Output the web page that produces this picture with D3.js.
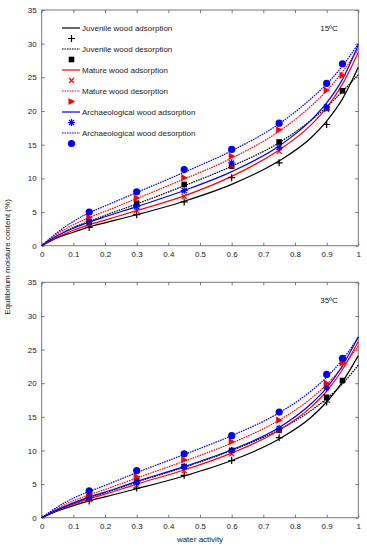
<!DOCTYPE html>
<html>
<head>
<meta charset="utf-8">
<script src="https://cdn.jsdelivr.net/npm/d3@7"></script>
<style>
  body { margin: 0; background: #fff; }
  svg { display: block; font-family: 'Liberation Sans', Arial, sans-serif; }
</style>
</head>
<body>
<div id="chart"></div>
<script>
// water activity values
const awAds = [0.15, 0.3, 0.45, 0.6, 0.75, 0.9];
const awDes = [0.15, 0.3, 0.45, 0.6, 0.75, 0.9, 0.95];
const awFit = [0, 0.05, 0.1, 0.15, 0.2, 0.3, 0.45, 0.6, 0.75, 0.85, 0.9, 0.95, 1];

const xTicks = [0, 0.1, 0.2, 0.3, 0.4, 0.5, 0.6, 0.7, 0.8, 0.9, 1];
const yTicks = [0, 5, 10, 15, 20, 25, 30, 35];

const seriesNames = ['Juvenile wood adsorption', 'Juvenile wood desorption', 'Mature wood adsorption',
  'Mature wood desorption', 'Archaeological wood adsorption', 'Archaeological wood desorption'];

// 15 ºC measured
const juvAds15 = [2.7, 4.6, 6.5, 10.1, 12.3, 18.0];
const juvDes15 = [3.5, 6.3, 9.1, 11.8, 15.4, 20.4, 23.0];
const matAds15 = [3.2, 5.2, 7.3, 11.8, 14.0, 20.2];
const matDes15 = [4.2, 7.1, 10.1, 13.3, 17.2, 23.1, 25.3];
const arcAds15 = [3.6, 5.8, 8.2, 12.3, 14.6, 20.6];
const arcDes15 = [5.0, 8.0, 11.3, 14.3, 18.2, 24.1, 27.0];
// 15 ºC fitted curves
const juvAdsFit15 = [0, 1.2, 2.0, 2.8, 3.4, 4.6, 6.6, 9.1, 12.6, 16.0, 18.5, 21.8, 26.5];
const juvDesFit15 = [0, 1.5, 2.7, 3.6, 4.5, 6.2, 8.9, 11.8, 15.3, 18.6, 20.6, 22.9, 25.4];
const matAdsFit15 = [0, 1.3, 2.3, 3.1, 3.8, 5.2, 7.4, 10.3, 14.2, 17.9, 20.5, 24.0, 28.7];
const matDesFit15 = [0, 1.8, 3.1, 4.2, 5.1, 7.0, 9.9, 13.0, 17.0, 20.7, 23.0, 25.8, 29.2];
const arcAdsFit15 = [0, 1.5, 2.6, 3.5, 4.3, 5.8, 8.2, 11.0, 14.8, 18.6, 21.2, 24.7, 29.8];
const arcDesFit15 = [0, 2.0, 3.6, 4.9, 5.9, 7.9, 10.9, 14.1, 18.1, 21.8, 24.0, 26.7, 30.0];

// 35 ºC measured
const juvAds35 = [2.5, 4.4, 6.3, 8.5, 11.9, 17.2];
const juvDes35 = [3.0, 5.5, 7.6, 10.0, 13.0, 17.9, 20.4];
const matAds35 = [2.7, 4.8, 7.0, 9.5, 13.0, 19.5];
const matDes35 = [3.5, 6.1, 8.6, 11.3, 14.5, 20.0, 23.0];
const arcAds35 = [3.0, 5.2, 7.6, 10.0, 13.3, 19.3];
const arcDes35 = [4.0, 7.0, 9.5, 12.2, 15.7, 21.3, 23.7];
// 35 ºC fitted curves
const juvAdsFit35 = [0, 1.0, 1.8, 2.5, 3.1, 4.3, 6.2, 8.5, 11.7, 14.9, 17.2, 20.2, 24.1];
const juvDesFit35 = [0, 1.2, 2.1, 3.0, 3.7, 5.3, 7.5, 10.0, 13.1, 15.9, 17.7, 19.9, 22.7];
const matAdsFit35 = [0, 1.1, 2.0, 2.8, 3.5, 5.0, 7.1, 9.6, 13.0, 16.4, 18.8, 22.0, 26.2];
const matDesFit35 = [0, 1.4, 2.5, 3.4, 4.2, 5.9, 8.4, 11.1, 14.5, 17.7, 19.8, 22.4, 25.5];
const arcAdsFit35 = [0, 1.2, 2.2, 3.1, 3.8, 5.4, 7.6, 10.1, 13.4, 16.9, 19.3, 22.6, 26.9];
const arcDesFit35 = [0, 1.6, 2.9, 3.9, 4.8, 6.7, 9.4, 12.2, 15.6, 18.8, 20.9, 23.5, 26.8];

const width = 367, height = 550;
const x0 = 41.7, x1 = 358.3;
const fontSize = 8;
const axisColor = '#777';

const styles = [
  { color: '#000', dash: null, marker: 'plus' },
  { color: '#000', dash: '1.6,0.9', marker: 'square' },
  { color: '#f00', dash: null, marker: 'cross' },
  { color: '#f00', dash: '1.6,0.9', marker: 'triangle' },
  { color: '#00f', dash: null, marker: 'star' },
  { color: '#00f', dash: '1.6,0.9', marker: 'circle' },
];

const panels = [
  { top: 10, bottom: 245.7, label: '15ºC', legend: true,
    points: [[awAds, juvAds15], [awDes, juvDes15], [awAds, matAds15], [awDes, matDes15], [awAds, arcAds15], [awDes, arcDes15]],
    fits: [juvAdsFit15, juvDesFit15, matAdsFit15, matDesFit15, arcAdsFit15, arcDesFit15] },
  { top: 282.3, bottom: 517.7, label: '35ºC', legend: false,
    points: [[awAds, juvAds35], [awDes, juvDes35], [awAds, matAds35], [awDes, matDes35], [awAds, arcAds35], [awDes, arcDes35]],
    fits: [juvAdsFit35, juvDesFit35, matAdsFit35, matDesFit35, arcAdsFit35, arcDesFit35] },
];

const svg = d3.select('#chart').append('svg')
  .attr('width', width)
  .attr('height', height)
  .attr('viewBox', [0, 0, width, height]);

function drawMarker(g, type, color, cx, cy) {
  const m = g.append('g').attr('transform', `translate(${cx},${cy})`);
  if (type === 'plus') {
    m.append('path').attr('d', 'M-3.5,0H3.5M0,-3.5V3.5').attr('stroke', color).attr('stroke-width', 1.2);
  } else if (type === 'square') {
    m.append('rect').attr('x', -2.8).attr('y', -2.8).attr('width', 5.6).attr('height', 5.6).attr('fill', color);
  } else if (type === 'cross') {
    m.append('path').attr('d', 'M-2.5,-2.5L2.5,2.5M-2.5,2.5L2.5,-2.5').attr('stroke', color).attr('stroke-width', 1.2);
  } else if (type === 'triangle') {
    m.append('path').attr('d', 'M-3,-3.6L3.6,0L-3,3.6Z').attr('fill', color);
  } else if (type === 'star') {
    m.append('path').attr('d', 'M-3.5,0H3.5M0,-3.5V3.5M-2.5,-2.5L2.5,2.5M-2.5,2.5L2.5,-2.5')
      .attr('stroke', color).attr('stroke-width', 1.2);
  } else if (type === 'circle') {
    m.append('circle').attr('r', 3.6).attr('fill', color);
  }
}

panels.forEach(p => {
  const x = d3.scaleLinear().domain([0, 1]).range([x0, x1]);
  const y = d3.scaleLinear().domain([0, 35]).range([p.bottom, p.top]);
  const g = svg.append('g');

  // frame and ticks (inward, on all sides)
  g.append('rect')
    .attr('x', x0).attr('y', p.top)
    .attr('width', x1 - x0).attr('height', p.bottom - p.top)
    .attr('fill', 'none').attr('stroke', axisColor).attr('stroke-width', 1);

  const axB = g.append('g').attr('transform', `translate(0,${p.bottom})`)
    .call(d3.axisBottom(x).tickValues(xTicks).tickSizeInner(-3).tickSizeOuter(0).tickPadding(6)
      .tickFormat(d => d3.format('')(d)));
  const axT = g.append('g').attr('transform', `translate(0,${p.top})`)
    .call(d3.axisTop(x).tickValues(xTicks).tickSizeInner(-3).tickSizeOuter(0).tickFormat(''));
  const axL = g.append('g').attr('transform', `translate(${x0},0)`)
    .call(d3.axisLeft(y).tickValues(yTicks).tickSizeInner(-3).tickSizeOuter(0).tickPadding(5));
  const axR = g.append('g').attr('transform', `translate(${x1},0)`)
    .call(d3.axisRight(y).tickValues(yTicks).tickSizeInner(-3).tickSizeOuter(0).tickFormat(''));
  [axB, axT, axL, axR].forEach(a => {
    a.select('.domain').remove();
    a.selectAll('line').attr('stroke', axisColor);
    a.selectAll('text').attr('font-size', fontSize).attr('fill', '#222')
      .attr('font-family', "'Liberation Sans', Arial, sans-serif");
  });

  // fitted curves
  const line = d3.line().x((d, i) => x(awFit[i])).y(d => y(d)).curve(d3.curveMonotoneX);
  p.fits.forEach((f, i) => {
    g.append('path')
      .attr('d', line(f))
      .attr('fill', 'none')
      .attr('stroke', styles[i].color)
      .attr('stroke-width', 1.2)
      .attr('stroke-dasharray', styles[i].dash);
  });

  // measured points
  p.points.forEach(([aw, vals], i) => {
    vals.forEach((v, j) => drawMarker(g, styles[i].marker, styles[i].color, x(aw[j]), y(v)));
  });

  g.append('text')
    .attr('x', 329).attr('y', p.top + 21)
    .attr('text-anchor', 'middle')
    .attr('font-size', fontSize)
    .attr('fill', '#222')
    .text(p.label);

  if (p.legend) {
    const lg = g.append('g');
    seriesNames.forEach((name, i) => {
      const ly = 28 + i * 21;
      lg.append('line')
        .attr('x1', 62).attr('x2', 80).attr('y1', ly).attr('y2', ly)
        .attr('stroke', styles[i].color).attr('stroke-width', 1.2)
        .attr('stroke-dasharray', styles[i].dash);
      lg.append('text')
        .attr('x', 82).attr('y', ly + 3)
        .attr('font-size', fontSize)
        .attr('fill', '#222')
        .text(name);
      drawMarker(lg, styles[i].marker, styles[i].color, 71.5, ly + 10.5);
    });
  }
});

svg.append('text')
  .attr('transform', 'translate(10,257) rotate(-90)')
  .attr('text-anchor', 'middle')
  .attr('font-size', fontSize)
  .attr('fill', '#222')
  .text('Equilibrium moisture content (%)');

svg.append('text')
  .attr('x', 200).attr('y', 542)
  .attr('text-anchor', 'middle')
  .attr('font-size', fontSize)
  .attr('fill', '#222')
  .text('water activity');
</script>
</body>
</html>
